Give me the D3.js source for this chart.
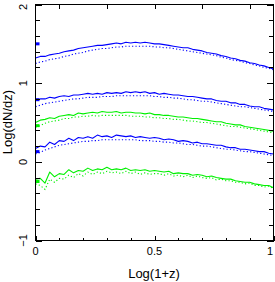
<!DOCTYPE html>
<html>
  <head>
    <title>dN/dz</title>
    <script src="https://d3js.org/d3.v7.min.js"></script>
    <style type="text/css">
      body {
        margin: 0;
        background: #fff;
        overflow: hidden;
      }

      text {
        font-family: "Liberation Sans", Arial, Helvetica, sans-serif;
        fill: #000;
      }

      .frame {
        fill: none;
        stroke: #000;
        stroke-width: 1px;
        shape-rendering: crispEdges;
      }

      .tick line {
        stroke: #000;
        shape-rendering: crispEdges;
      }

      .domain {
        display: none;
      }

      .solid {
        fill: none;
        stroke-width: 1.1px;
        stroke-linejoin: round;
      }

      .dotted {
        fill: none;
        stroke-width: 1.1px;
        stroke-dasharray: 1.2, 2.2;
      }
    </style>
  </head>
<body>
  <div id="chart"></div>

  <script type="text/javascript">
    var width = 275;
    var height = 282;

    // x grid, log(1+z)
    var logz = [0, 0.02, 0.04, 0.06, 0.08, 0.1, 0.12, 0.14, 0.16, 0.18,
      0.2, 0.22, 0.24, 0.26, 0.28, 0.3, 0.32, 0.34, 0.36, 0.38,
      0.4, 0.42, 0.44, 0.46, 0.48, 0.5, 0.52, 0.54, 0.56, 0.58,
      0.6, 0.62, 0.64, 0.66, 0.68, 0.7, 0.72, 0.74, 0.76, 0.78,
      0.8, 0.82, 0.84, 0.86, 0.88, 0.9, 0.92, 0.94, 0.96, 0.98, 1];

    // top blue
    var blue1 = [1.32, 1.34, 1.34, 1.36, 1.37, 1.38, 1.40, 1.41, 1.42, 1.44,
      1.45, 1.46, 1.47, 1.48, 1.48, 1.49, 1.50, 1.51, 1.50, 1.52,
      1.51, 1.52, 1.51, 1.52, 1.51, 1.50, 1.50, 1.49, 1.48, 1.47,
      1.46, 1.45, 1.45, 1.43, 1.42, 1.41, 1.39, 1.38, 1.37, 1.35,
      1.34, 1.32, 1.31, 1.29, 1.28, 1.26, 1.25, 1.23, 1.22, 1.20, 1.18];
    var blue1Dot = [1.25, 1.27, 1.28, 1.30, 1.31, 1.32, 1.34, 1.35, 1.37, 1.38,
      1.39, 1.41, 1.42, 1.43, 1.44, 1.44, 1.45, 1.46, 1.46, 1.47,
      1.47, 1.47, 1.47, 1.47, 1.47, 1.46, 1.46, 1.45, 1.45, 1.44,
      1.43, 1.42, 1.41, 1.40, 1.39, 1.38, 1.37, 1.36, 1.35, 1.33,
      1.32, 1.30, 1.29, 1.28, 1.26, 1.25, 1.23, 1.22, 1.20, 1.19, 1.17];

    // middle blue
    var blue2 = [0.78, 0.80, 0.80, 0.82, 0.81, 0.83, 0.84, 0.83, 0.85, 0.85,
      0.86, 0.87, 0.86, 0.87, 0.86, 0.88, 0.87, 0.88, 0.87, 0.89,
      0.88, 0.89, 0.88, 0.89, 0.87, 0.88, 0.86, 0.87, 0.86, 0.85,
      0.85, 0.84, 0.83, 0.83, 0.82, 0.81, 0.80, 0.80, 0.78, 0.77,
      0.77, 0.75, 0.75, 0.73, 0.73, 0.71, 0.70, 0.70, 0.68, 0.67, 0.66];
    var blue2Dot = [0.70, 0.72, 0.74, 0.75, 0.76, 0.77, 0.78, 0.79, 0.80, 0.80,
      0.81, 0.82, 0.82, 0.82, 0.83, 0.83, 0.83, 0.84, 0.84, 0.84,
      0.84, 0.84, 0.84, 0.84, 0.84, 0.83, 0.83, 0.82, 0.82, 0.81,
      0.81, 0.80, 0.79, 0.79, 0.78, 0.77, 0.77, 0.76, 0.75, 0.74,
      0.73, 0.72, 0.71, 0.70, 0.70, 0.69, 0.68, 0.67, 0.66, 0.65, 0.64];

    // upper green
    var green1 = [0.50, 0.53, 0.54, 0.56, 0.55, 0.58, 0.59, 0.60, 0.59, 0.62,
      0.61, 0.62, 0.63, 0.62, 0.64, 0.63, 0.63, 0.64, 0.62, 0.63,
      0.63, 0.62, 0.62, 0.61, 0.62, 0.60, 0.60, 0.59, 0.59, 0.58,
      0.57, 0.57, 0.56, 0.55, 0.55, 0.54, 0.53, 0.52, 0.51, 0.51,
      0.49, 0.48, 0.47, 0.47, 0.45, 0.44, 0.43, 0.42, 0.41, 0.40, 0.39];
    var green1Dot = [0.44, 0.46, 0.49, 0.51, 0.52, 0.53, 0.55, 0.55, 0.57, 0.57,
      0.58, 0.58, 0.59, 0.58, 0.59, 0.59, 0.59, 0.59, 0.59, 0.59,
      0.58, 0.58, 0.58, 0.57, 0.57, 0.56, 0.56, 0.55, 0.55, 0.54,
      0.54, 0.53, 0.52, 0.52, 0.51, 0.50, 0.50, 0.49, 0.48, 0.47,
      0.46, 0.45, 0.45, 0.44, 0.43, 0.42, 0.41, 0.40, 0.39, 0.38, 0.37];

    // lower blue
    var blue3 = [0.17, 0.20, 0.19, 0.25, 0.22, 0.27, 0.26, 0.30, 0.27, 0.31,
      0.30, 0.32, 0.30, 0.34, 0.32, 0.33, 0.31, 0.34, 0.33, 0.32,
      0.33, 0.31, 0.32, 0.31, 0.30, 0.31, 0.30, 0.28, 0.29, 0.28,
      0.26, 0.27, 0.26, 0.24, 0.25, 0.23, 0.23, 0.22, 0.21, 0.21,
      0.19, 0.18, 0.18, 0.16, 0.16, 0.15, 0.14, 0.13, 0.13, 0.11, 0.10];
    var blue3Dot = [0.10, 0.12, 0.15, 0.17, 0.19, 0.21, 0.22, 0.23, 0.24, 0.25,
      0.26, 0.26, 0.27, 0.27, 0.28, 0.28, 0.28, 0.28, 0.28, 0.28,
      0.28, 0.28, 0.27, 0.27, 0.27, 0.26, 0.26, 0.25, 0.25, 0.24,
      0.24, 0.23, 0.22, 0.22, 0.21, 0.20, 0.20, 0.19, 0.18, 0.17,
      0.16, 0.16, 0.15, 0.14, 0.13, 0.13, 0.12, 0.11, 0.10, 0.09, 0.08];

    // lower green
    var green2 = [-0.22, -0.21, -0.27, -0.13, -0.19, -0.15, -0.16, -0.10, -0.14, -0.11,
      -0.12, -0.08, -0.11, -0.09, -0.10, -0.07, -0.10, -0.09, -0.10, -0.08,
      -0.11, -0.10, -0.11, -0.10, -0.12, -0.11, -0.12, -0.13, -0.12, -0.15,
      -0.14, -0.15, -0.15, -0.17, -0.16, -0.17, -0.19, -0.18, -0.20, -0.21,
      -0.22, -0.22, -0.24, -0.25, -0.26, -0.26, -0.28, -0.29, -0.30, -0.30, -0.33];
    var green2Dot = [-0.28, -0.30, -0.35, -0.22, -0.26, -0.21, -0.22, -0.17, -0.20, -0.15,
      -0.18, -0.13, -0.16, -0.13, -0.15, -0.12, -0.14, -0.13, -0.15, -0.12,
      -0.15, -0.13, -0.16, -0.14, -0.16, -0.15, -0.15, -0.17, -0.15, -0.18,
      -0.17, -0.19, -0.17, -0.20, -0.18, -0.20, -0.21, -0.20, -0.23, -0.22,
      -0.24, -0.24, -0.26, -0.26, -0.28, -0.27, -0.30, -0.30, -0.32, -0.31, -0.34];

    // small marks at z = 0
    var markVals = [1.50, 0.79, 0.46, 0.13, -0.25];
    var markColors = ["#0000ff", "#0000ff", "#00f000", "#0000ff", "#00f000"];

    var xMajorTicks = [0, 0.5, 1];
    var xMinorTicks = [0.1, 0.2, 0.3, 0.4, 0.6, 0.7, 0.8, 0.9];
    var xTopTicks = [0.1, 0.3, 0.5, 0.7, 0.9];
    var yMajorTicks = [-1, 0, 1, 2];
    var yMinorTicks = [-0.8, -0.6, -0.4, -0.2, 0.2, 0.4, 0.6, 0.8, 1.2, 1.4, 1.6, 1.8];

    var series = [
      {vals: blue1, color: "#0000ff", cls: "solid"},
      {vals: blue1Dot, color: "#0000ff", cls: "dotted"},
      {vals: blue2, color: "#0000ff", cls: "solid"},
      {vals: blue2Dot, color: "#0000ff", cls: "dotted"},
      {vals: green1, color: "#00f000", cls: "solid"},
      {vals: green1Dot, color: "#00f000", cls: "dotted"},
      {vals: blue3, color: "#0000ff", cls: "solid"},
      {vals: blue3Dot, color: "#0000ff", cls: "dotted"},
      {vals: green2, color: "#00f000", cls: "solid"},
      {vals: green2Dot, color: "#00f000", cls: "dotted"}
    ];

    var x = d3.scaleLinear().domain([0, 1]).range([35.5, 273.5]);
    var y = d3.scaleLinear().domain([-1, 2]).range([240.5, 4.5]);

    var svg = d3.select("#chart")
      .append("svg")
      .attr("width", width)
      .attr("height", height);

    var line = d3.line()
      .x(function(d, i) { return x(logz[i]); })
      .y(function(d) { return y(d); });

    svg.selectAll("path.series")
      .data(series)
      .enter()
      .append("path")
      .attr("class", function(d) { return "series " + d.cls; })
      .attr("stroke", function(d) { return d.color; })
      .attr("d", function(d) { return line(d.vals); });

    svg.selectAll("rect.mark")
      .data(markVals)
      .enter()
      .append("rect")
      .attr("class", "mark")
      .attr("x", x(0))
      .attr("y", function(d) { return y(d) - 1.5; })
      .attr("width", 4)
      .attr("height", 3)
      .attr("fill", function(d, i) { return markColors[i]; });

    // ticks, all pointing inward
    function addAxis(axis, tx, ty) {
      svg.append("g")
        .attr("transform", "translate(" + tx + "," + ty + ")")
        .call(axis.tickFormat(""));
    }

    addAxis(d3.axisBottom(x).tickValues(xMajorTicks).tickSize(-5), 0, y(-1));
    addAxis(d3.axisBottom(x).tickValues(xMinorTicks).tickSize(-3), 0, y(-1));
    addAxis(d3.axisTop(x).tickValues(xTopTicks).tickSize(-4), 0, y(2));
    addAxis(d3.axisLeft(y).tickValues(yMajorTicks).tickSize(-6), x(0), 0);
    addAxis(d3.axisLeft(y).tickValues(yMinorTicks).tickSize(-4), x(0), 0);
    addAxis(d3.axisRight(y).tickValues(yMajorTicks).tickSize(-7), x(1), 0);
    addAxis(d3.axisRight(y).tickValues(yMinorTicks).tickSize(-5), x(1), 0);

    svg.append("rect")
      .attr("class", "frame")
      .attr("x", x(0))
      .attr("y", y(2))
      .attr("width", x(1) - x(0))
      .attr("height", y(-1) - y(2));

    // tick labels
    svg.selectAll("text.xlab")
      .data(xMajorTicks)
      .enter()
      .append("text")
      .attr("class", "xlab")
      .attr("x", function(d) { return Math.min(x(d), 270); })
      .attr("y", 255)
      .attr("text-anchor", "middle")
      .style("font-size", "11px")
      .text(function(d) { return d === 0.5 ? "0.5" : d3.format("d")(d); });

    svg.selectAll("text.ylab")
      .data(yMajorTicks)
      .enter()
      .append("text")
      .attr("class", "ylab")
      .attr("transform", function(d) {
        return "translate(27," + Math.max(y(d), 7) + ") rotate(-90)";
      })
      .attr("text-anchor", "middle")
      .style("font-size", "11px")
      .text(function(d) { return d < 0 ? "\u2212" + Math.abs(d) : d; });

    svg.append("text")
      .attr("x", 154)
      .attr("y", 278)
      .attr("text-anchor", "middle")
      .style("font-size", "13px")
      .text("Log(1+z)");

    svg.append("text")
      .attr("transform", "translate(12,122) rotate(-90)")
      .attr("text-anchor", "middle")
      .style("font-size", "13px")
      .text("Log(dN/dz)");
  </script>
</body>
</html>
